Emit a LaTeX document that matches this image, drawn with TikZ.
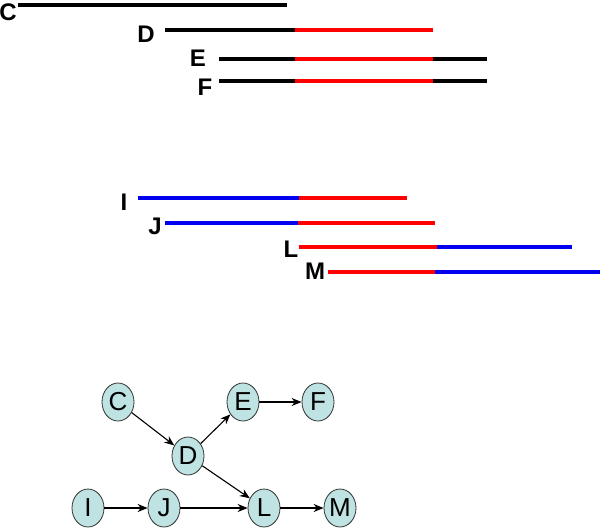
\documentclass[tikz,border=0pt]{standalone}
\usepackage{fontspec}
\setmainfont{Liberation Sans}
\usetikzlibrary{shapes.geometric,arrows.meta}
\definecolor{nodefill}{HTML}{BFE3E3}
\definecolor{segred}{HTML}{FF0000}
\definecolor{segblue}{HTML}{0000F0}
\begin{document}
\begin{tikzpicture}[x=1pt,y=-1pt,
  seg/.style={line width=4.3pt},
  lab/.style={font=\fontsize{24}{24}\selectfont\bfseries, inner sep=0pt},
  gnode/.style={ellipse, draw=black!80, line width=0.8pt, fill=nodefill, minimum width=32pt, minimum height=38pt, inner sep=0pt, font=\fontsize{26}{26}\selectfont},
  conn/.style={-{Stealth[length=10pt,width=8pt]}, line width=1.1pt}]
\useasboundingbox (0,0) rectangle (600,528);
% top group
\node[lab] (lC) at (8,12) {C};
\coordinate (c1) at (18,5); \coordinate (c2) at (287,5);
\draw[seg] (c1) -- (c2);
\node[lab] (lD) at (146,34) {D};
\coordinate (d1) at (165,30); \coordinate (d2) at (295,30); \coordinate (d3) at (433,30);
\draw[seg] (d1) -- (d2); \draw[seg,segred] (d2) -- (d3);
\node[lab] (lE) at (198,58) {E};
\coordinate (e1) at (219,59); \coordinate (e2) at (295,59); \coordinate (e3) at (433,59); \coordinate (e4) at (487,59);
\draw[seg] (e1) -- (e2); \draw[seg,segred] (e2) -- (e3); \draw[seg] (e3) -- (e4);
\node[lab] (lF) at (205,87) {F};
\coordinate (f1) at (219,81); \coordinate (f2) at (295,81); \coordinate (f3) at (433,81); \coordinate (f4) at (487,81);
\draw[seg] (f1) -- (f2); \draw[seg,segred] (f2) -- (f3); \draw[seg] (f3) -- (f4);
% middle group
\node[lab] (lI) at (124,202) {I};
\coordinate (i1) at (138,198); \coordinate (i2) at (299,198); \coordinate (i3) at (407,198);
\draw[seg,segblue] (i1) -- (i2); \draw[seg,segred] (i2) -- (i3);
\node[lab] (lJ) at (155,226) {J};
\coordinate (j1) at (165,223); \coordinate (j2) at (298,223); \coordinate (j3) at (435,223);
\draw[seg,segblue] (j1) -- (j2); \draw[seg,segred] (j2) -- (j3);
\node[lab] (lL) at (291,249) {L};
\coordinate (l1) at (299,247); \coordinate (l2) at (437,247); \coordinate (l3) at (572,247);
\draw[seg,segred] (l1) -- (l2); \draw[seg,segblue] (l2) -- (l3);
\node[lab] (lM) at (315,271) {M};
\coordinate (m1) at (328,272); \coordinate (m2) at (435,272); \coordinate (m3) at (600,272);
\draw[seg,segred] (m1) -- (m2); \draw[seg,segblue] (m2) -- (m3);
% graph
\node[gnode] (C) at (118,402) {C};
\node[gnode] (E) at (243,402) {E};
\node[gnode] (F) at (318,402) {F};
\node[gnode] (D) at (188,456) {D};
\node[gnode] (I) at (88,508) {I};
\node[gnode] (J) at (164,508) {J};
\node[gnode] (L) at (264,508) {L};
\node[gnode] (M) at (340,508) {M};
\draw[conn] (C) -- (D);
\draw[conn] (D) -- (E);
\draw[conn] (E) -- (F);
\draw[conn] (D) -- (L);
\draw[conn] (I) -- (J);
\draw[conn] (J) -- (L);
\draw[conn] (L) -- (M);
\end{tikzpicture}
\end{document}
